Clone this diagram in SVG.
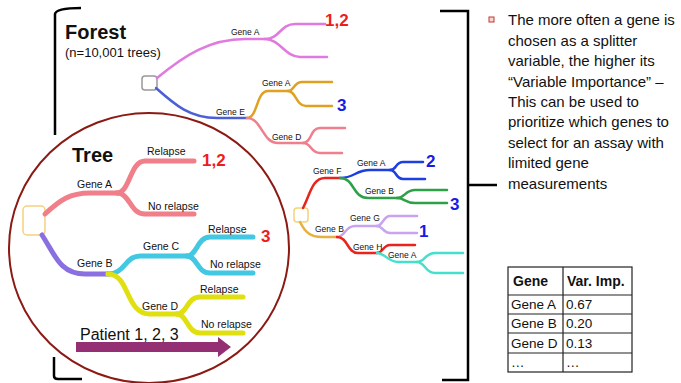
<svg xmlns="http://www.w3.org/2000/svg" width="681" height="383" viewBox="0 0 681 383">
  <defs>
    <style>
      text { font-family: "Liberation Sans", Arial, sans-serif; fill: #111; }
      .fl { font-size: 8.5px; }
      .tl { font-size: 10.5px; }
      .num { font-size: 17px; font-weight: bold; }
      .red { fill: #ee1c1c; }
      .blue { fill: #1a1ae6; }
      .b { fill: none; stroke-linecap: round; stroke-linejoin: round; }
      .thin { stroke-width: 2.5; }
      .thick { stroke-width: 5; }
      .bracket { fill: none; stroke: #000; stroke-width: 2.5; }
      .para { font-size: 15px; }
      .tab { font-size: 13.5px; }
      .tabh { font-size: 14px; font-weight: bold; }
      .grid { stroke: #222; stroke-width: 1.2; fill: none; }
    </style>
  </defs>

  <rect width="681" height="383" fill="#fff"/>

  <!-- brackets -->
  <g id="brackets">
    <path class="bracket" d="M81,8 Q56,8 55,14 L55,135"/>
    <path class="bracket" d="M54,357 L54,376 Q54,379 58,379 L82,379"/>
    <path class="bracket" d="M440,11 L468,11 L468,380 L442,380"/>
    <path class="bracket" d="M468,185 L497,185"/>
  </g>

  <!-- forest title -->
  <g id="forest-title">
    <text x="65" y="39" style="font-size:20px;font-weight:bold">Forest</text>
    <text x="65" y="57" style="font-size:13px">(n=10,001 trees)</text>
  </g>

  <!-- forest tree 1 -->
  <g id="forest-tree-1">
    <rect x="142" y="76" width="15" height="14" rx="3" fill="#fff" stroke="#999" stroke-width="1.5"/>
    <g id="connectors-tree-1">
      <path class="b thin" stroke="#e07ae0" d="M157,78 C185,55 210,39 245,39 L265,39"/>
      <path class="b thin" stroke="#e07ae0" d="M265,39 C280,39 280,24 295,24 L325,24"/>
      <path class="b thin" stroke="#e07ae0" d="M265,39 C280,39 285,57 300,57 L327,57"/>
      <path class="b thin" stroke="#4a5fd8" d="M156,88 C175,105 190,118 217,118 L247,118"/>
      <path class="b thin" stroke="#e0a020" d="M247,118 C258,118 256,91 268,91 L288,91"/>
      <path class="b thin" stroke="#e0a020" d="M288,91 C294,91 294,82 302,82 L332,82"/>
      <path class="b thin" stroke="#e0a020" d="M288,91 C296,91 296,106 306,106 L332,106"/>
      <path class="b thin" stroke="#f07f8e" d="M247,118 C262,118 262,143 278,143 L303,143"/>
      <path class="b thin" stroke="#f07f8e" d="M303,143 C312,143 310,128 320,128 L345,128"/>
      <path class="b thin" stroke="#f07f8e" d="M303,143 C312,143 310,153 320,153 L342,153"/>
    </g>
    <text class="fl" x="231" y="35">Gene A</text>
    <text class="fl" x="262" y="86">Gene A</text>
    <text class="fl" x="216" y="115">Gene E</text>
    <text class="fl" x="272" y="140">Gene D</text>
    <text class="num red" x="325" y="26">1,2</text>
    <text class="num blue" x="337" y="111">3</text>
  </g>

  <!-- forest tree 2 -->
  <g id="forest-tree-2">
    <rect x="294" y="208" width="14" height="14" rx="3" fill="#fff" stroke="#f5d27a" stroke-width="1.5"/>
    <g id="connectors-tree-2">
      <path class="b thin" stroke="#e8241c" d="M303,208 C310,195 312,178 325,178 L340,178"/>
      <path class="b thin" stroke="#1e3fe0" d="M340,178 C355,178 355,170 370,170 L390,170"/>
      <path class="b thin" stroke="#1e3fe0" d="M390,170 C397,170 395,162 403,162 L423,162"/>
      <path class="b thin" stroke="#1e3fe0" d="M390,170 C397,170 395,179 403,179 L425,179"/>
      <path class="b thin" stroke="#2ea048" d="M340,178 C355,178 352,198 368,198 L397,198"/>
      <path class="b thin" stroke="#2ea048" d="M397,198 C405,198 405,190 415,190 L447,190"/>
      <path class="b thin" stroke="#2ea048" d="M397,198 C405,198 405,203 415,203 L447,203"/>
      <path class="b thin" stroke="#e8b040" d="M300,222 C305,232 310,237 322,237 L337,237"/>
      <path class="b thin" stroke="#c9a2f0" d="M337,237 C345,237 345,226 355,226 L377,226"/>
      <path class="b thin" stroke="#c9a2f0" d="M377,226 C383,226 383,216 390,216 L417,216"/>
      <path class="b thin" stroke="#c9a2f0" d="M377,226 C383,226 383,233 390,233 L417,233"/>
      <path class="b thin" stroke="#e8241c" d="M337,237 C348,237 347,253 358,253 L377,253"/>
      <path class="b thin" stroke="#e8241c" d="M377,253 C383,253 383,245 390,245 L415,245"/>
      <path class="b thin" stroke="#44e0cc" d="M377,253 C385,253 388,262 398,262 L417,262"/>
      <path class="b thin" stroke="#44e0cc" d="M417,262 C425,262 425,253 435,253 L463,253"/>
      <path class="b thin" stroke="#44e0cc" d="M417,262 C425,262 425,273 435,273 L463,273"/>
    </g>
    <text class="fl" x="313" y="174">Gene F</text>
    <text class="fl" x="357" y="166">Gene A</text>
    <text class="fl" x="365" y="194">Gene B</text>
    <text class="fl" x="315" y="232">Gene B</text>
    <text class="fl" x="350" y="221">Gene G</text>
    <text class="fl" x="353" y="250">Gene H</text>
    <text class="fl" x="388" y="258">Gene A</text>
    <text class="num blue" x="426" y="167">2</text>
    <text class="num blue" x="450" y="210">3</text>
    <text class="num blue" x="419" y="237">1</text>
  </g>

  <!-- single tree in circle -->
  <g id="tree">
    <ellipse cx="149" cy="248" rx="140" ry="135" fill="#fff" stroke="#8b1a14" stroke-width="2"/>
    <text x="72" y="162" style="font-size:20px;font-weight:bold">Tree</text>
    <rect x="23" y="206" width="22" height="29" rx="4" fill="#fff" stroke="#f8d07e" stroke-width="1.5"/>
    <g id="connectors-tree">
      <path class="b thick" stroke="#f07f8a" d="M45,214 C60,200 70,193 90,193 L117,193"/>
      <path class="b thick" stroke="#f07f8a" d="M117,193 C130,193 130,161 145,161 L194,161"/>
      <path class="b thick" stroke="#f07f8a" d="M117,193 C130,193 130,214 145,214 L194,214"/>
      <path class="b thick" stroke="#8a6fe0" d="M42,235 C55,255 60,274 85,274 L108,274"/>
      <path class="b thick" stroke="#42c8e2" d="M108,274 C125,274 125,256 140,256 L187,256"/>
      <path class="b thick" stroke="#42c8e2" d="M187,256 C197,256 197,237 210,237 L253,237"/>
      <path class="b thick" stroke="#42c8e2" d="M187,256 C197,256 197,273 210,273 L253,273"/>
      <path class="b thick" stroke="#e0e010" d="M108,274 C130,274 125,314 150,314 L177,314"/>
      <path class="b thick" stroke="#e0e010" d="M177,314 C187,314 187,297 200,297 L243,297"/>
      <path class="b thick" stroke="#e0e010" d="M177,314 C187,314 187,333 200,333 L243,333"/>
    </g>
    <text class="tl" x="77" y="188">Gene A</text>
    <text class="tl" x="147" y="155">Relapse</text>
    <text class="tl" x="148" y="210">No relapse</text>
    <text class="tl" x="77" y="267">Gene B</text>
    <text class="tl" x="143" y="250">Gene C</text>
    <text class="tl" x="208" y="233">Relapse</text>
    <text class="tl" x="210" y="268">No relapse</text>
    <text class="tl" x="142" y="310">Gene D</text>
    <text class="tl" x="200" y="293">Relapse</text>
    <text class="tl" x="201" y="328">No relapse</text>
    <text class="num red" x="202" y="166">1,2</text>
    <text class="num red" x="261" y="242">3</text>
    <text x="80" y="340" style="font-size:16px">Patient 1, 2, 3</text>
    <polygon points="76,342 218,342 218,337 231,347 218,357 218,352 76,352" fill="#952f73"/>
  </g>

  <!-- explanatory paragraph -->
  <g id="note">
    <rect x="489" y="17" width="5" height="5" fill="#f6d6d6" stroke="#c0392b" stroke-width="1"/>
    <text class="para" x="508" y="25">The more often a gene is</text>
    <text class="para" x="508" y="46">chosen as a splitter</text>
    <text class="para" x="508" y="66">variable, the higher its</text>
    <text class="para" x="508" y="87">“Variable Importance” –</text>
    <text class="para" x="508" y="107">This can be used to</text>
    <text class="para" x="508" y="127">prioritize which genes to</text>
    <text class="para" x="508" y="148">select for an assay with</text>
    <text class="para" x="508" y="168">limited gene</text>
    <text class="para" x="508" y="189">measurements</text>
  </g>

  <!-- importance table -->
  <g id="table">
    <rect class="grid" x="508" y="267" width="124" height="105"/>
    <path class="grid" d="M563,267 V372 M508,295 H632 M508,314 H632 M508,333 H632 M508,353 H632"/>
    <text class="tabh" x="513" y="286">Gene</text>
    <text class="tabh" x="567" y="286">Var. Imp.</text>
    <text class="tab" x="511" y="309">Gene A</text>
    <text class="tab" x="566" y="309">0.67</text>
    <text class="tab" x="511" y="328">Gene B</text>
    <text class="tab" x="566" y="328">0.20</text>
    <text class="tab" x="511" y="348">Gene D</text>
    <text class="tab" x="566" y="348">0.13</text>
    <text class="tab" x="511" y="367">…</text>
    <text class="tab" x="566" y="367">…</text>
  </g>
</svg>
